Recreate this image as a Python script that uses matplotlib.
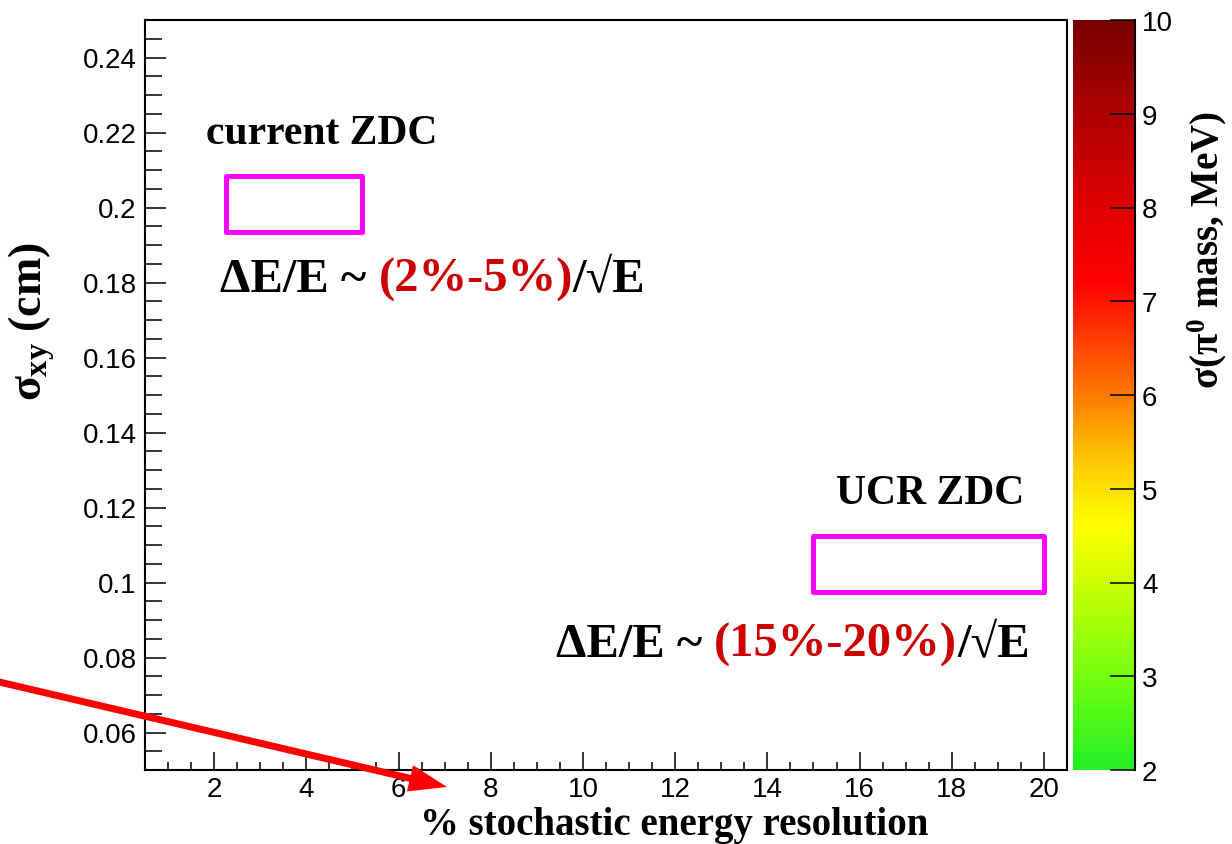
import numpy as np
import matplotlib
matplotlib.use("Agg")
import matplotlib.pyplot as plt
from matplotlib.patches import Rectangle, FancyArrow
from matplotlib.colors import LinearSegmentedColormap, Normalize
from matplotlib.cm import ScalarMappable
from matplotlib.transforms import IdentityTransform
from matplotlib.ticker import MultipleLocator

plt.rcParams["mathtext.fontset"] = "custom"
plt.rcParams["mathtext.rm"] = "Liberation Serif:bold"
plt.rcParams["mathtext.it"] = "Liberation Serif:bold"
plt.rcParams["mathtext.bf"] = "Liberation Serif:bold"

# detector boxes: (x range in % resolution, y range in sigma_xy cm)
box_names = ["current ZDC", "UCR ZDC"]
box_x0 = [2.25, 15.0]
box_x1 = [5.2, 20.0]
box_y0 = [0.1935, 0.0975]
box_y1 = [0.2085, 0.1125]
box_res = ["(2%-5%)", "(15%-20%)"]

x_lim = (0.5, 20.5)
y_lim = (0.05, 0.25)
x_ticks = [2, 4, 6, 8, 10, 12, 14, 16, 18, 20]
y_ticks = [0.06, 0.08, 0.1, 0.12, 0.14, 0.16, 0.18, 0.2, 0.22, 0.24]
y_tick_labels = ["0.06", "0.08", "0.1", "0.12", "0.14", "0.16", "0.18", "0.2", "0.22", "0.24"]

# colour scale (sigma of pi0 mass, MeV)
z_min, z_max = 2, 10
z_ticks = [2, 3, 4, 5, 6, 7, 8, 9, 10]
cmap_vals = [2, 3, 4, 4.6, 5.3, 6, 7.2, 8, 9, 10]
cmap_cols = ["#22f022", "#77ff11", "#ccff00", "#ffff00", "#ffc800",
             "#ff7a00", "#ff0000", "#e00000", "#b00000", "#780000"]

W, H = 1232, 845
fig = plt.figure(figsize=(W / 100, H / 100), dpi=100)

# axes frame in pixels: left 145, right 1067, top 21, bottom 771
ax = fig.add_axes([145 / W, 1 - 771 / H, (1067 - 145) / W, (771 - 21) / H])
ax.set_xlim(*x_lim)
ax.set_ylim(*y_lim)
ax.set_xticks(x_ticks)
ax.set_yticks(y_ticks)
ax.set_yticklabels(y_tick_labels)
ax.xaxis.set_minor_locator(MultipleLocator(0.5))
ax.yaxis.set_minor_locator(MultipleLocator(0.005))
tick_font = {"family": "Liberation Sans", "size": 20}
for lab in ax.get_xticklabels() + ax.get_yticklabels():
    lab.set_fontfamily(tick_font["family"])
    lab.set_fontsize(tick_font["size"])
ax.tick_params(axis="x", which="major", direction="in", length=13, width=1.1, pad=4)
ax.tick_params(axis="x", which="minor", direction="in", length=6, width=1.1)
ax.tick_params(axis="y", which="major", direction="in", length=15, width=1.1, pad=6)
ax.tick_params(axis="y", which="minor", direction="in", length=12, width=1.1)
for s in ax.spines.values():
    s.set_linewidth(1.5)

# magenta boxes
for x0, x1, y0, y1 in zip(box_x0, box_x1, box_y0, box_y1):
    ax.add_patch(Rectangle((x0, y0), x1 - x0, y1 - y0, fill=False,
                           edgecolor="#ff00ff", linewidth=3.6, joinstyle="round"))

serif = dict(family="Liberation Serif", weight="bold")

# detector names
ax.text(1.83, 0.2173, box_names[0], fontsize=30, va="baseline", ha="left", **serif)
ax.text(15.49, 0.1211, box_names[1], fontsize=30, va="baseline", ha="left", **serif)


# resolution formula, black / red / black pieces chained
def formula(x, y, res):
    t1 = ax.text(x, y, "\u0394E/E ~ ", fontsize=35, va="baseline", ha="left", **serif)
    t2 = ax.annotate(res, xy=(1, 0), xycoords=t1, va="bottom", ha="left",
                     fontsize=35, color="#cc0000", **serif)
    ax.annotate("/\u221aE", xy=(1, 0), xycoords=t2, va="bottom", ha="left",
                fontsize=35, **serif)


formula(2.13, 0.1776, box_res[0])
formula(9.41, 0.0803, box_res[1])

# axis titles
fig.text(32 / W, 1 - 322 / H, r"$\sigma_{xy}$ (cm)", rotation=90,
         ha="center", va="center", fontsize=33, **serif)
fig.text(674 / W, 10 / H, "% stochastic energy resolution",
         ha="center", va="baseline", fontsize=28, **serif)

# colour bar
cmap = LinearSegmentedColormap.from_list(
    "zdc", [((v - z_min) / (z_max - z_min), c) for v, c in zip(cmap_vals, cmap_cols)])
cax = fig.add_axes([1073 / W, 1 - 771 / H, (1135 - 1073) / W, (771 - 21) / H])
sm = ScalarMappable(norm=Normalize(z_min, z_max), cmap=cmap)
cbar = fig.colorbar(sm, cax=cax)
cbar.set_ticks(z_ticks)
cbar.outline.set_visible(False)
cax.tick_params(direction="in", length=18, width=1.1, pad=5, right=True)
for lab in cax.get_yticklabels():
    lab.set_fontfamily(tick_font["family"])
    lab.set_fontsize(tick_font["size"])
cax.plot([1, 1], [0, 1], transform=cax.transAxes, color="black", lw=1.5, clip_on=False)
fig.text(1207 / W, 1 - 250 / H, r"$\sigma(\pi^0$ mass, MeV)", rotation=90,
         ha="center", va="center", fontsize=28, **serif)

# red pointer arrow
fig.add_artist(FancyArrow(-5, 163, 452, -106, width=7, head_width=27, head_length=38,
                          length_includes_head=True, color="#ff0000", lw=0,
                          transform=IdentityTransform()))

fig.savefig("out.png", dpi=100)
